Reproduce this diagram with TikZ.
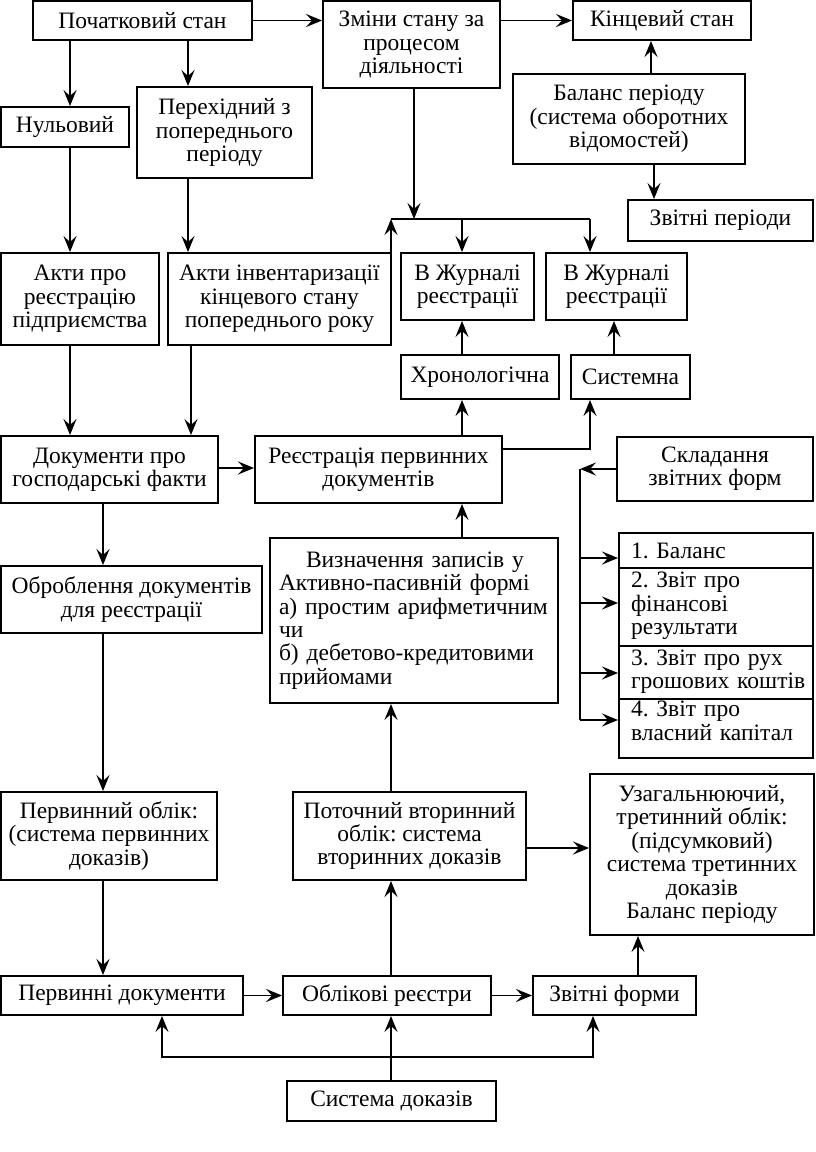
\documentclass[tikz,border=0pt]{standalone}
\usepackage{fontspec}
\setmainfont{Liberation Serif}
\usetikzlibrary{arrows.meta,calc}
\frenchspacing
\begin{document}
\begin{tikzpicture}[x=1pt,y=-1pt,
  box/.style={draw, line width=1.9pt, inner sep=0pt, align=center, font=\fontsize{23.5}{23.4}\selectfont},
  txt/.style={inner sep=0pt, align=left, font=\fontsize{23.5}{23.4}\selectfont},
  arr/.style={line width=1.9pt, -{Stealth[length=16pt,width=13pt,inset=6pt]}},
  ln/.style={line width=1.9pt}]
\path[use as bounding box, fill=white] (0,0) rectangle (816,1152);

% boxes
\node[box, minimum width=219, minimum height=39] (init) at (142.5,20.5) {Початковий стан};
\node[box, minimum width=177, minimum height=87] (change) at (411.5,44.5) {Зміни стану за\\процесом\\діяльності};
\node[box, minimum width=178, minimum height=39] (final) at (662,20.5) {Кінцевий стан};
\node[box, minimum width=232, minimum height=90] (balance) at (629,119) {Баланс періоду\\(система оборотних\\відомостей)};
\node[box, minimum width=185, minimum height=41] (repper) at (720.5,220.5) {Звітні періоди};
\node[box, minimum width=128, minimum height=40] (zero) at (65,127) {Нульовий};
\node[box, minimum width=175, minimum height=91] (trans) at (224.5,132.5) {Перехідний з\\попереднього\\періоду};
\node[box, minimum width=158, minimum height=92] (actreg) at (80,299) {Акти про\\реєстрацію\\підприємства};
\node[box, minimum width=223, minimum height=92] (actinv) at (279.5,299) {Акти інвентаризації\\кінцевого стану\\попереднього року};
\node[box, minimum width=133, minimum height=67] (jour1) at (467.5,286.5) {В Журналі\\реєстрації};
\node[box, minimum width=141, minimum height=67] (jour2) at (616.5,286.5) {В Журналі\\реєстрації};
\node[box, minimum width=158, minimum height=44] (chron) at (480,377) {Хронологічна};
\node[box, minimum width=119, minimum height=44] (sys) at (630.5,377) {Системна};
\node[box, minimum width=217, minimum height=67] (docs) at (109.5,469.5) {Документи про\\господарські факти};
\node[box, minimum width=247, minimum height=67] (regprim) at (378.5,469.5) {Реєстрація первинних\\документів};
\node[box, minimum width=196, minimum height=64] (compose) at (715,469) {Складання\\звітних форм};
\node[box, minimum width=288, minimum height=165, text width=270, align=left] (define) at (414,620.5) {\hspace*{27pt}Визначення записів у\\Активно-пасивній формі\\а) простим арифметичним\\чи\\б) дебетово-кредитовими\\прийомами};
\node[box, minimum width=261, minimum height=67] (process) at (131.5,599.5) {Оброблення документів\\для реєстрації};

% list of reporting forms
\node[box, minimum width=194, minimum height=35] (l1) at (716,550.5) {};
\node[box, minimum width=194, minimum height=78] (l2) at (716,607) {};
\node[box, minimum width=194, minimum height=53] (l3) at (716,672.5) {};
\node[box, minimum width=194, minimum height=59] (l4) at (716,728.5) {};
\node[txt, text width=176] (l1t) at (719,551) {1. Баланс};
\node[txt, text width=176] (l2t) at (719,606) {2. Звіт про\\фінансові\\результати};
\node[txt, text width=176] (l3t) at (719,672) {3. Звіт про рух\\грошових коштів};
\node[txt, text width=176] (l4t) at (719,721) {4. Звіт про\\власний капітал};

\node[box, minimum width=216, minimum height=88] (prim) at (109,836) {Первинний облік:\\(система первинних\\доказів)};
\node[box, minimum width=233, minimum height=88] (sec) at (409.5,836) {Поточний вторинний\\облік: система\\вторинних доказів};
\node[box, minimum width=224, minimum height=161] (gen) at (702,854.5) {Узагальнюючий,\\третинний облік:\\(підсумковий)\\система третинних\\доказів\\Баланс періоду};
\node[box, minimum width=242, minimum height=39] (pdocs) at (122,995.5) {Первинні документи};
\node[box, minimum width=208, minimum height=39] (regs) at (387,995.5) {Облікові реєстри};
\node[box, minimum width=163, minimum height=39] (forms) at (614.5,995.5) {Звітні форми};
\node[box, minimum width=209, minimum height=40] (evid) at (391.5,1101) {Система доказів};

% helper coordinates
\coordinate (x70) at (70,0);
\coordinate (x188) at (188,0);
\coordinate (x191) at (191,0);
\coordinate (x103) at (103,0);
\coordinate (x391) at (391,0);
\coordinate (x414) at (414,0);
\coordinate (x462) at (462,0);
\coordinate (x590) at (590,0);
\coordinate (x614) at (614,0);
\coordinate (x651) at (651,0);
\coordinate (x654) at (654,0);
\coordinate (x580) at (580,0);
\coordinate (x162) at (162,0);
\coordinate (x593) at (593,0);
\coordinate (x638) at (638,0);
\coordinate (J) at (391,219);
\coordinate (JR) at (590,219);
\coordinate (y449) at (0,449);
\coordinate (y468) at (0,468);
\coordinate (y848) at (0,848);
\coordinate (y1057) at (0,1057);
\coordinate (yl1) at (0,558);
\coordinate (yl2) at (0,603);
\coordinate (yl3) at (0,673);
\coordinate (yl4) at (0,720);

% top row
\draw[arr] (init.east) -- (change.west |- init.east);
\draw[arr] (change.east |- final.west) -- (final.west);
\draw[arr] (x651 |- balance.north) -- (x651 |- final.south);
\draw[arr] (x654 |- balance.south) -- (x654 |- repper.north);
\draw[arr] (x70 |- init.south) -- (x70 |- zero.north);
\draw[arr] (x188 |- init.south) -- (x188 |- trans.north);
\draw[arr] (x70 |- zero.south) -- (x70 |- actreg.north);
\draw[arr] (x188 |- trans.south) -- (x188 |- actinv.north);
\draw[arr] (x70 |- actreg.south) -- (x70 |- docs.north);
\draw[arr] (x191 |- actinv.south) -- (x191 |- docs.north);

% junction
\draw[arr] (x391 |- actinv.north) -- (J);
\draw[ln] (J) -- (JR);
\draw[arr] (x414 |- change.south) -- (x414 |- J);
\draw[arr] (x462 |- J) -- (x462 |- jour1.north);
\draw[arr] (JR) -- (x590 |- jour2.north);

% middle
\draw[arr] (docs.east |- y468) -- (regprim.west |- y468);
\draw[arr] (x103 |- docs.south) -- (x103 |- process.north);
\draw[arr] (x103 |- process.south) -- (x103 |- prim.north);
\draw[arr] (x103 |- prim.south) -- (x103 |- pdocs.north);
\draw[arr] (x462 |- regprim.north) -- (x462 |- chron.south);
\draw[arr] (x462 |- chron.north) -- (x462 |- jour1.south);
\draw[arr] (regprim.east |- y449) -| (x590 |- sys.south);
\draw[arr] (x614 |- sys.north) -- (x614 |- jour2.south);
\draw[arr] (x462 |- define.north) -- (x462 |- regprim.south);
\draw[arr] (x391 |- sec.north) -- (x391 |- define.south);

% reporting forms trunk
\draw[arr] (compose.west) -- (x580 |- compose.west);
\draw[ln] (x580 |- compose.west) -- (x580 |- yl4);
\draw[arr] (x580 |- yl1) -- (l1.west |- yl1);
\draw[arr] (x580 |- yl2) -- (l2.west |- yl2);
\draw[arr] (x580 |- yl3) -- (l3.west |- yl3);
\draw[arr] (x580 |- yl4) -- (l4.west |- yl4);

% bottom
\draw[arr] (sec.east |- y848) -- (gen.west |- y848);
\draw[arr] (x391 |- regs.north) -- (x391 |- sec.south);
\draw[arr] (x391 |- evid.north) -- (x391 |- regs.south);
\draw[arr] (pdocs.east) -- (regs.west);
\draw[arr] (regs.east) -- (forms.west);
\draw[arr] (x638 |- forms.north) -- (x638 |- gen.south);
\draw[arr] (x391 |- y1057) -| (x162 |- pdocs.south);
\draw[arr] (x391 |- y1057) -| (x593 |- forms.south);
\end{tikzpicture}
\end{document}
